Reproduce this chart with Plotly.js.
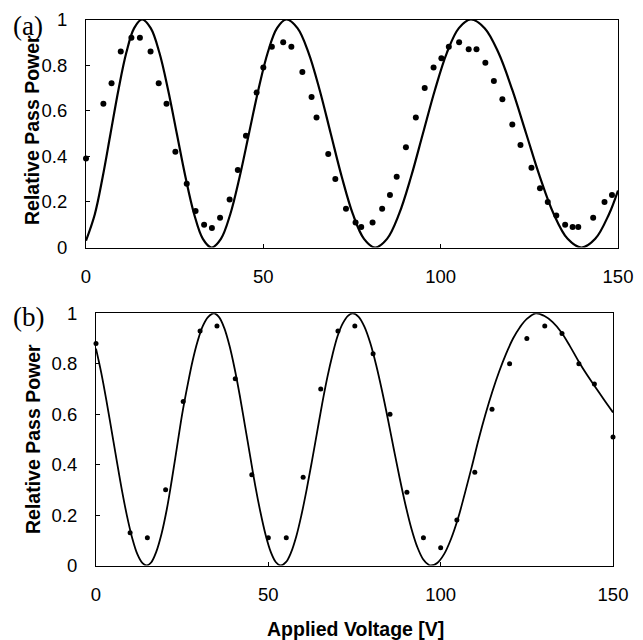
<!DOCTYPE html>
<html>
<head>
<meta charset="utf-8">
<script src="https://cdn.plot.ly/plotly-3.0.1.min.js"></script>
<style>html,body{margin:0;padding:0;background:#fff;}#chart{width:643px;height:640px;}</style>
</head>
<body>
<div id="chart"></div>
<script>
// Panel (a) measured points
var aDataV = [0,4.9,7.2,9.8,12.8,15.2,18.2,20.5,22.7,25.2,28.4,30.9,33.3,35.5,37.8,40.5,42.8,45.1,48.1,50.0,52.4,55.6,57.9,61.0,63.6,65.0,68.3,70.3,73.3,76.0,77.6,80.8,83.5,85.7,87.6,90.2,93.0,95.5,98.0,100.2,102.3,105.2,107.9,110.1,112.6,115.0,117.4,120.2,122.5,125.6,128.0,130.2,132.6,135.1,137.2,138.8,143.0,146.2,148.3];
var aDataP = [0.39,0.63,0.72,0.86,0.92,0.92,0.86,0.72,0.63,0.42,0.28,0.16,0.10,0.085,0.13,0.21,0.34,0.49,0.68,0.79,0.88,0.90,0.88,0.77,0.66,0.57,0.41,0.30,0.17,0.11,0.09,0.11,0.17,0.23,0.31,0.44,0.57,0.70,0.79,0.83,0.88,0.90,0.87,0.87,0.81,0.73,0.65,0.54,0.45,0.35,0.26,0.20,0.14,0.10,0.09,0.09,0.13,0.20,0.23];
// Panel (a) fitted curve
var aCurveV = [0,2.49,4.70,6.92,9.14,11.36,13.58,15.8,18.25,20.7,23.15,25.6,28.05,30.5,32.95,35.4,38.04,40.68,43.31,45.95,48.59,51.23,53.86,56.5,59.63,62.75,65.88,69.0,72.13,75.25,78.38,81.5,84.88,88.25,91.63,95.0,98.38,101.75,105.13,108.5,112.4,116.3,120.2,124.1,128.0,131.9,135.8,139.7,143.58,147.45,150];
var aCurveP = [0.03,0.146,0.309,0.5,0.691,0.854,0.962,1,0.962,0.854,0.691,0.5,0.309,0.146,0.038,0,0.038,0.146,0.309,0.5,0.691,0.854,0.962,1,0.962,0.854,0.691,0.5,0.309,0.146,0.038,0,0.038,0.146,0.309,0.5,0.691,0.854,0.962,1,0.962,0.854,0.691,0.5,0.309,0.146,0.038,0,0.038,0.146,0.25];

// Panel (b) measured points
var bDataV = [0,9.9,14.9,20.2,25.3,30.2,35.1,40.4,45.2,50.0,55.2,60.1,65.2,70.2,75.1,80.4,85.3,90.2,95.0,100.0,104.7,109.9,114.9,120.0,125.0,130.2,135.2,140.1,144.6,150.0];
var bDataP = [0.88,0.13,0.11,0.30,0.65,0.93,0.95,0.74,0.36,0.11,0.11,0.35,0.70,0.93,0.95,0.84,0.60,0.29,0.11,0.07,0.18,0.37,0.62,0.80,0.90,0.95,0.92,0.80,0.72,0.51];
// Panel (b) fitted curve
var bCurveV = [0,1.5,3,4.5,6,7.5,9,10.5,12,13.5,14.7,16,17.5,19,20.5,22,23.5,25,26.5,28,29.5,31,32.5,34.2,35.7,37.2,38.7,40.2,41.7,43.2,44.7,46.2,47.7,49.2,50.7,52.2,53.6,55.1,56.6,58.1,59.6,61.1,62.6,64.1,65.6,67.1,68.6,70.1,71.6,73.1,74.5,76.2,77.9,79.6,81.3,83.0,84.7,86.4,88.1,89.8,91.5,93.2,94.9,96.6,97.2,99,101,103,105,107,109,111,113,115,117,119,121,123,125,127.6,130,132.5,135,137.5,140,142.5,145,147.5,150];
var bCurveP = [0.86,0.766,0.656,0.537,0.417,0.30,0.196,0.109,0.045,0.009,0,0.012,0.055,0.125,0.22,0.34,0.47,0.60,0.71,0.81,0.89,0.95,0.985,1,0.985,0.942,0.873,0.782,0.675,0.556,0.436,0.317,0.212,0.122,0.054,0.013,0,0.013,0.052,0.115,0.20,0.30,0.41,0.525,0.64,0.745,0.835,0.91,0.96,0.99,1,0.986,0.946,0.881,0.794,0.692,0.58,0.462,0.347,0.24,0.147,0.074,0.025,0.002,0,0.01,0.045,0.105,0.185,0.285,0.39,0.50,0.60,0.69,0.77,0.84,0.90,0.945,0.978,1,0.99,0.965,0.925,0.87,0.81,0.755,0.705,0.655,0.607];

var xTicks = [0,50,100,150];
var yTicks = [0,0.2,0.4,0.6,0.8,1];
var panelLabels = ['(a)','(b)'];
var yTitle = 'Relative Pass Power';
var xTitle = 'Applied Voltage [V]';

var W = 643, H = 640;
function px(x){return x/W;}
function py(y){return 1 - y/H;}

var tickFont = {family:'Liberation Sans, Arial, sans-serif', size:18.5, color:'#000'};
function xa(domain, anchor){
  return {domain:domain, anchor:anchor, range:[0,150], tickvals:xTicks, ticktext:xTicks.map(String),
    ticks:'inside', ticklen:4, tickwidth:1, tickcolor:'#000', showline:true, linecolor:'#000', linewidth:1,
    mirror:true, showgrid:false, zeroline:false, tickfont:tickFont, ticklabelstandoff:12, automargin:false, fixedrange:true};
}
function ya(domain, anchor){
  return {domain:domain, anchor:anchor, range:[0,1], tickvals:yTicks, ticktext:yTicks.map(function(v){return String(v);}),
    ticks:'inside', ticklen:4, tickwidth:1, tickcolor:'#000', showline:true, linecolor:'#000', linewidth:1,
    mirror:true, showgrid:false, zeroline:false, tickfont:tickFont, ticklabelstandoff:14, automargin:false, fixedrange:true};
}

var traces = [
  {x:aCurveV, y:aCurveP, xaxis:'x', yaxis:'y', mode:'lines', line:{color:'#000', width:2.2, shape:'spline', smoothing:1}, cliponaxis:true},
  {x:aDataV, y:aDataP, xaxis:'x', yaxis:'y', mode:'markers', marker:{color:'#000', size:6}, cliponaxis:false},
  {x:bCurveV, y:bCurveP, xaxis:'x2', yaxis:'y2', mode:'lines', line:{color:'#000', width:1.8, shape:'spline', smoothing:1}, cliponaxis:true},
  {x:bDataV, y:bDataP, xaxis:'x2', yaxis:'y2', mode:'markers', marker:{color:'#000', size:5}, cliponaxis:false}
];

var titleFont = {family:'Liberation Sans, Arial, sans-serif', size:19.5, color:'#000', weight:'bold'};
var labelFont = {family:'Liberation Serif, Times New Roman, serif', size:27, color:'#000'};

var layout = {
  width:W, height:H, margin:{l:0,r:0,t:0,b:0}, paper_bgcolor:'#fff', plot_bgcolor:'#fff',
  showlegend:false, hovermode:false,
  xaxis: xa([px(86), px(618)], 'y'),
  yaxis: ya([py(247.5), py(19.5)], 'x'),
  xaxis2: xa([px(96), px(613)], 'y2'),
  yaxis2: ya([py(565.5), py(313.3)], 'x2'),
  annotations: [
    {text:panelLabels[0], xref:'paper', yref:'paper', x:px(28), y:py(26), xanchor:'center', yanchor:'middle', showarrow:false, font:labelFont},
    {text:panelLabels[1], xref:'paper', yref:'paper', x:px(28), y:py(317), xanchor:'center', yanchor:'middle', showarrow:false, font:labelFont},
    {text:'<b>'+yTitle+'</b>', xref:'paper', yref:'paper', x:px(32), y:py(130), xanchor:'center', yanchor:'middle', textangle:-90, showarrow:false, font:titleFont},
    {text:'<b>'+yTitle+'</b>', xref:'paper', yref:'paper', x:px(33), y:py(439), xanchor:'center', yanchor:'middle', textangle:-90, showarrow:false, font:titleFont},
    {text:'<b>'+xTitle+'</b>', xref:'paper', yref:'paper', x:px(355), y:py(629), xanchor:'center', yanchor:'middle', showarrow:false, font:titleFont}
  ]
};

Plotly.newPlot('chart', traces, layout, {displayModeBar:false, staticPlot:true});
</script>
</body>
</html>
